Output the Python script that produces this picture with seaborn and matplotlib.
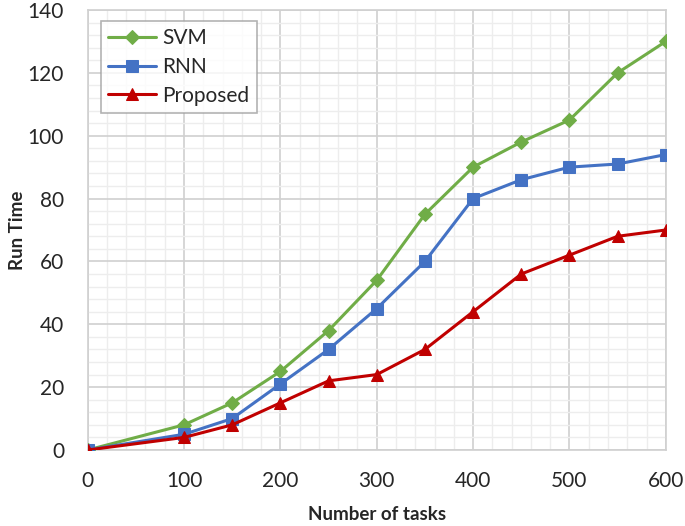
import numpy as np
import pandas as pd
import matplotlib
matplotlib.use('Agg')
import matplotlib.pyplot as plt
import seaborn as sns
from matplotlib.ticker import MultipleLocator

# chart data
tasks = [0, 100, 150, 200, 250, 300, 350, 400, 450, 500, 550, 600]
svm_time = [0, 8, 15, 25, 38, 54, 75, 90, 98, 105, 120, 130]
rnn_time = [0, 5, 10, 21, 32, 45, 60, 80, 86, 90, 91, 94]
proposed_time = [0, 4, 8, 15, 22, 24, 32, 44, 56, 62, 68, 70]
methods = ['SVM', 'RNN', 'Proposed']

sns.set_theme(style='white')
plt.rcParams['font.family'] = ['Lato', 'DejaVu Sans']

df = pd.DataFrame({
    'tasks': tasks * 3,
    'time': svm_time + rnn_time + proposed_time,
    'method': [m for m in methods for _ in tasks],
})

colors = {'SVM': '#70AD47', 'RNN': '#4472C4', 'Proposed': '#C00000'}
markers = {'SVM': 'D', 'RNN': 's', 'Proposed': '^'}
sizes = {'SVM': 7, 'RNN': 9, 'Proposed': 9}

fig = plt.figure(figsize=(6.85, 5.26), dpi=100)
ax = fig.add_axes([0.128, 0.1445, 0.844, 0.8365])

for m in methods:
    sub = df[df['method'] == m]
    sns.lineplot(data=sub, x='tasks', y='time', ax=ax, color=colors[m],
                 marker=markers[m], markersize=sizes[m], markeredgecolor=colors[m],
                 linewidth=2.2, label=m, zorder=3)

ax.set_xlim(0, 600)
ax.set_ylim(0, 140)
ax.xaxis.set_major_locator(MultipleLocator(100))
ax.xaxis.set_minor_locator(MultipleLocator(20))
ax.yaxis.set_major_locator(MultipleLocator(20))
ax.yaxis.set_minor_locator(MultipleLocator(4))
ax.grid(which='major', color='#D0D0D0', linewidth=1.2)
ax.grid(which='minor', color='#EDEDED', linewidth=1.0)
ax.set_axisbelow(True)
for s in ax.spines.values():
    s.set_color('#D0D0D0')
    s.set_linewidth(1.2)

ax.tick_params(axis='x', which='both', length=0, labelsize=15, pad=15)
ax.tick_params(axis='y', which='both', length=0, labelsize=15, pad=17)
ax.set_xlabel('Number of tasks', fontsize=13.5, fontweight='bold', labelpad=11)
ax.set_ylabel('Run Time', fontsize=13.5, fontweight='bold', labelpad=1)

leg = ax.legend(loc='upper left', bbox_to_anchor=(0.023, 0.975), fontsize=15,
                frameon=True, fancybox=False, edgecolor='#A0A0A0',
                handlelength=2.3, handletextpad=0.3, borderpad=0.35,
                labelspacing=0.42, borderaxespad=0.0)
leg.get_frame().set_linewidth(1.2)

fig.savefig('out.png', dpi=100)
